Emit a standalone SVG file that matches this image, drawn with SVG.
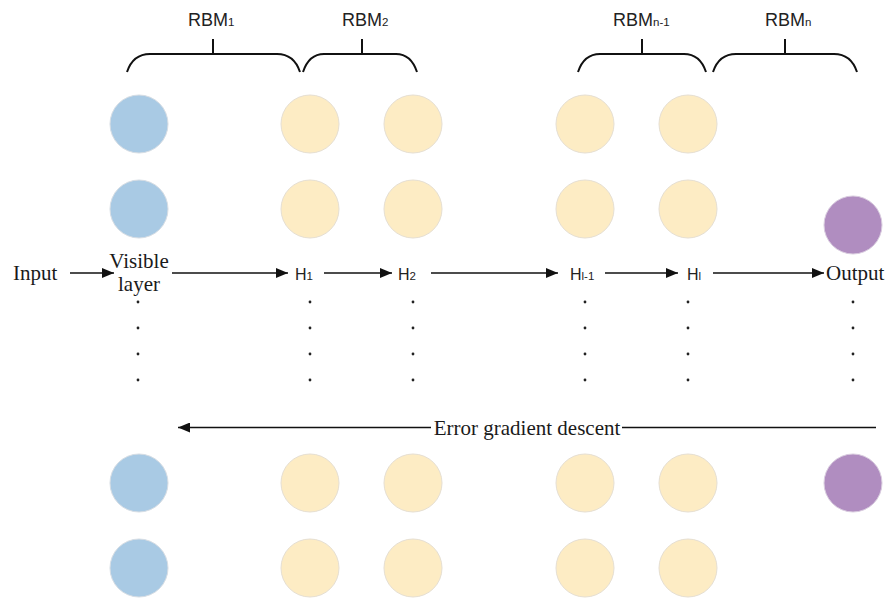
<svg xmlns="http://www.w3.org/2000/svg" width="888" height="599" viewBox="0 0 888 599">
<style>
.blue{fill:#A9CAE4;stroke:#D6DDE4;stroke-width:1}
.yel{fill:#FDECC4;stroke:#E6DFD2;stroke-width:1}
.pur{fill:#B08DC0;stroke:#D9CCDF;stroke-width:1}
.serif{font-family:"Liberation Serif","Times New Roman",serif;font-size:21px;fill:#1a1a1a}
.sans{font-family:"Liberation Sans",Arial,sans-serif;fill:#222}
.rbm{font-size:18px}
.h{font-size:16px}
.sub{font-size:11.5px}
.brace{fill:none;stroke:#111;stroke-width:2}
.arr{stroke:#111;stroke-width:1.6;fill:none}
.dot{fill:#222}
</style>
<defs>
<marker id="ah" viewBox="0 0 12 10" refX="12" refY="5" markerWidth="12" markerHeight="10" markerUnits="userSpaceOnUse" orient="auto">
<path d="M0,0 L12,5 L0,10 z" fill="#111"/>
</marker>
</defs>

<g id="braces">
<path class="brace" d="M127,72 Q133,54 150,54 H277 Q294,54 300,72 M213,54 V39"/>
<path class="brace" d="M303,72 Q309,54 324,54 H396 Q411,54 417,72 M362,54 V39"/>
<path class="brace" d="M578,72 Q584,54 600,54 H684 Q700,54 706,72 M642,54 V39"/>
<path class="brace" d="M713,72 Q719,54 736,54 H834 Q851,54 857,72 M785,54 V39"/>
</g>
<g id="rbm-labels">
<text class="sans rbm" x="188" y="26">RBM<tspan class="sub">1</tspan></text>
<text class="sans rbm" x="342" y="26">RBM<tspan class="sub">2</tspan></text>
<text class="sans rbm" x="613" y="26">RBM<tspan class="sub">n-1</tspan></text>
<text class="sans rbm" x="765" y="26">RBM<tspan class="sub">n</tspan></text>
</g>

<g id="visible">
<circle class="blue" cx="139" cy="124" r="29"/>
<circle class="blue" cx="139" cy="209" r="29"/>
<circle class="blue" cx="139" cy="483" r="29"/>
<circle class="blue" cx="139" cy="568" r="29"/>
<text class="serif" x="139" y="268" text-anchor="middle">Visible</text>
<text class="serif" x="139" y="291" text-anchor="middle">layer</text>
</g>
<g id="h1">
<circle class="yel" cx="310" cy="124" r="29"/>
<circle class="yel" cx="310" cy="209" r="29"/>
<circle class="yel" cx="310" cy="483" r="29"/>
<circle class="yel" cx="310" cy="568" r="29"/>
<text class="sans h" x="295" y="280">H<tspan class="sub">1</tspan></text>
</g>
<g id="h2">
<circle class="yel" cx="413" cy="124" r="29"/>
<circle class="yel" cx="413" cy="209" r="29"/>
<circle class="yel" cx="413" cy="483" r="29"/>
<circle class="yel" cx="413" cy="568" r="29"/>
<text class="sans h" x="398" y="280">H<tspan class="sub">2</tspan></text>
</g>
<g id="hl-1">
<circle class="yel" cx="585" cy="124" r="29"/>
<circle class="yel" cx="585" cy="209" r="29"/>
<circle class="yel" cx="585" cy="483" r="29"/>
<circle class="yel" cx="585" cy="568" r="29"/>
<text class="sans h" x="570" y="280">H<tspan class="sub">l-1</tspan></text>
</g>
<g id="hl">
<circle class="yel" cx="688" cy="124" r="29"/>
<circle class="yel" cx="688" cy="209" r="29"/>
<circle class="yel" cx="688" cy="483" r="29"/>
<circle class="yel" cx="688" cy="568" r="29"/>
<text class="sans h" x="687" y="280">H<tspan class="sub">l</tspan></text>
</g>
<g id="output">
<circle class="pur" cx="853" cy="225" r="29"/>
<circle class="pur" cx="853" cy="483" r="29"/>
<text class="serif" x="826" y="280">Output</text>
</g>
<g id="input">
<text class="serif" x="13" y="280">Input</text>
</g>

<g id="dots">
<circle class="dot" cx="138" cy="302" r="1.4"/><circle class="dot" cx="138" cy="328" r="1.4"/><circle class="dot" cx="138" cy="354" r="1.4"/><circle class="dot" cx="138" cy="380" r="1.4"/>
<circle class="dot" cx="310" cy="302" r="1.4"/><circle class="dot" cx="310" cy="328" r="1.4"/><circle class="dot" cx="310" cy="354" r="1.4"/><circle class="dot" cx="310" cy="380" r="1.4"/>
<circle class="dot" cx="413" cy="302" r="1.4"/><circle class="dot" cx="413" cy="328" r="1.4"/><circle class="dot" cx="413" cy="354" r="1.4"/><circle class="dot" cx="413" cy="380" r="1.4"/>
<circle class="dot" cx="585" cy="302" r="1.4"/><circle class="dot" cx="585" cy="328" r="1.4"/><circle class="dot" cx="585" cy="354" r="1.4"/><circle class="dot" cx="585" cy="380" r="1.4"/>
<circle class="dot" cx="688" cy="302" r="1.4"/><circle class="dot" cx="688" cy="328" r="1.4"/><circle class="dot" cx="688" cy="354" r="1.4"/><circle class="dot" cx="688" cy="380" r="1.4"/>
<circle class="dot" cx="853" cy="302" r="1.4"/><circle class="dot" cx="853" cy="328" r="1.4"/><circle class="dot" cx="853" cy="354" r="1.4"/><circle class="dot" cx="853" cy="380" r="1.4"/>
</g>

<g id="connectors">
<line class="arr" x1="70" y1="273" x2="114" y2="273" marker-end="url(#ah)"/>
<line class="arr" x1="172" y1="273" x2="288" y2="273" marker-end="url(#ah)"/>
<line class="arr" x1="324" y1="273" x2="392" y2="273" marker-end="url(#ah)"/>
<line class="arr" x1="431" y1="273" x2="558" y2="273" marker-end="url(#ah)"/>
<line class="arr" x1="605" y1="273" x2="678" y2="273" marker-end="url(#ah)"/>
<line class="arr" x1="713" y1="273" x2="824" y2="273" marker-end="url(#ah)"/>
<line class="arr" x1="431" y1="427.5" x2="178" y2="427.5" marker-end="url(#ah)"/>
<line class="arr" x1="622" y1="427.5" x2="876" y2="427.5"/>
<text class="serif" x="527" y="435" text-anchor="middle">Error gradient descent</text>
</g>
</svg>
